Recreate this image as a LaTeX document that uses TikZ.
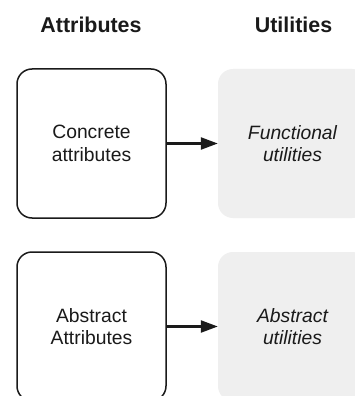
\documentclass[tikz,border=0pt]{standalone}
\usepackage{fontspec}
\setmainfont{Liberation Sans}
\usetikzlibrary{arrows.meta}
\definecolor{boxgray}{HTML}{EFEFEF}
\definecolor{ink}{HTML}{1A1A1A}
\tikzset{
  attrbox/.style={draw=ink, line width=1.5pt, rounded corners=15pt, minimum width=149pt, minimum height=149pt, inner sep=0pt, align=center, font=\fontsize{19.3}{22.5}\selectfont, text=ink},
  utilbox/.style={fill=boxgray, rounded corners=15pt, minimum width=149pt, minimum height=149pt, inner sep=0pt, align=center, font=\fontsize{19.3}{22.5}\selectfont\itshape, text=ink},
  header/.style={anchor=base, font=\fontsize{21.4}{24}\selectfont\bfseries, text=ink, inner sep=0pt},
  conn/.style={draw=ink, line width=2.3pt, -{Triangle[length=17pt,width=12pt]}}
}
\begin{document}
\begin{tikzpicture}[x=1pt,y=-1pt]
\clip (0,0) rectangle (355,396);
\fill[white] (0,0) rectangle (355,396);
\node[header] (h1) at (91,33) {Attributes};
\node[header] (h2) at (293.5,33) {Utilities};
\node[attrbox] (c1) at (91.5,143.5) {Concrete\\attributes};
\node[utilbox] (u1) at (292.5,143.5) {Functional\\utilities};
\node[attrbox] (c2) at (91.5,326.5) {Abstract\\Attributes};
\node[utilbox] (u2) at (292.5,326.5) {Abstract\\utilities};
\draw[conn] (c1.east) -- (u1.west);
\draw[conn] (c2.east) -- (u2.west);
\end{tikzpicture}
\end{document}
